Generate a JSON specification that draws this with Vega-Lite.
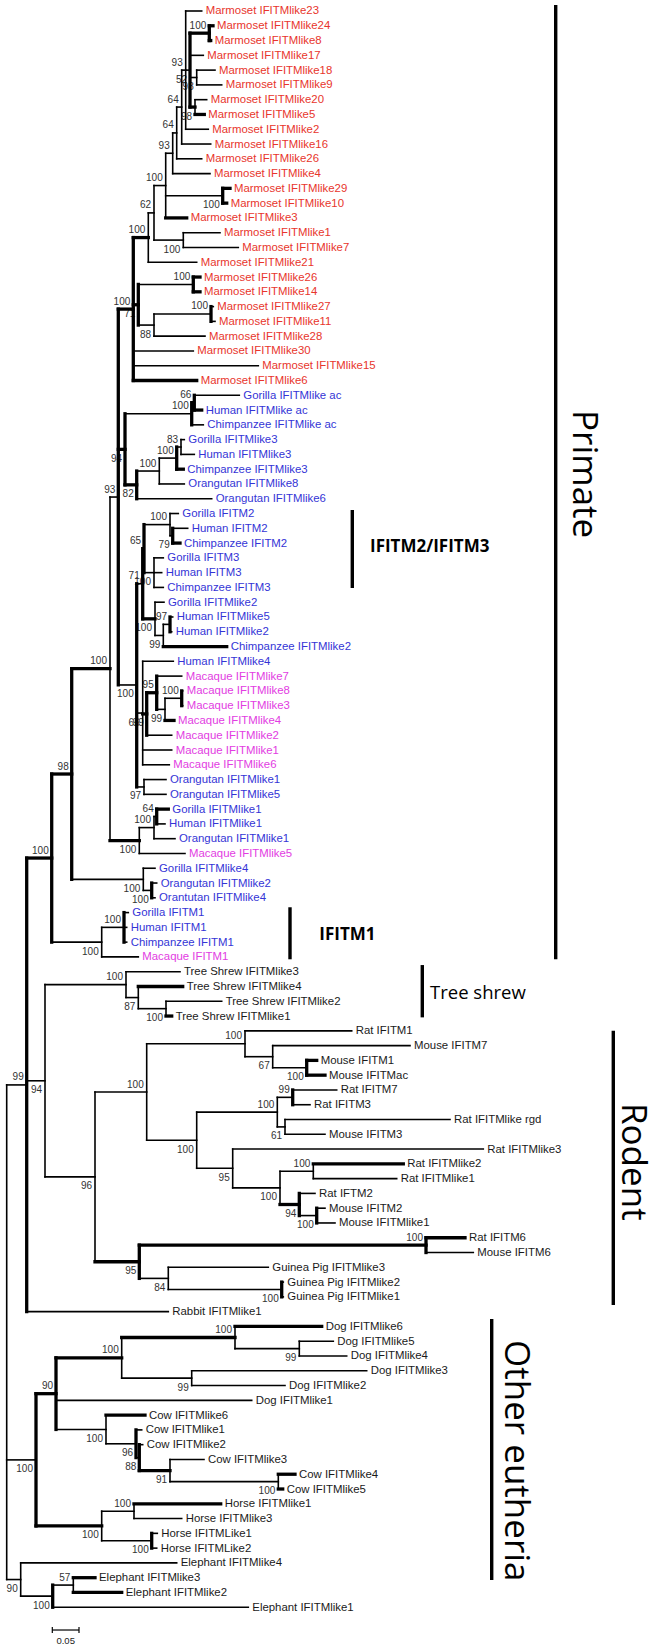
{
"$schema":"https://vega.github.io/schema/vega-lite/v6.json",
"width":658,"height":1651,"padding":0,
"autosize":{"type":"fit","contains":"padding"},
"config":{"view":{"stroke":null}},
"datasets":{
"nodes":[
{"id":"R0","p":null,"x":6.7,"y":89.39,"hb":0,"vb":0},
{"id":"AC","p":"R0","x":26.7,"y":72.66,"bs":"99","sd":"a","hb":0,"vb":1},
{"id":"AR","p":"R0","x":36,"y":98.03,"bs":"100","sd":"b","hb":0,"vb":1},
{"id":"AS","p":"R0","x":20.7,"y":106.125,"bs":"90","sd":"b","hb":0,"vb":0},
{"id":"AA","p":"AC","x":51.7,"y":57.31,"bs":"100","sd":"a","hb":1,"vb":1},
{"id":"AD","p":"AC","x":45,"y":72.38,"bs":"94","sd":"b","hb":0,"vb":0},
{"id":"Y","p":"AA","x":71.7,"y":51.625,"bs":"98","sd":"a","hb":1,"vb":1},
{"id":"AB","p":"AA","x":101.7,"y":63,"bs":"100","sd":"b","hb":0,"vb":0},
{"id":"X","p":"Y","x":110,"y":44.5,"bs":"100","sd":"a","hb":1,"vb":0},
{"id":"Z","p":"Y","x":143.3,"y":58.75,"bs":"100","sd":"b","hb":0,"vb":0},
{"id":"N9","p":"X","x":118.3,"y":32.885,"bs":"93","sd":"a","hb":0,"vb":1},
{"id":"Q","p":"X","x":139.3,"y":56.125,"bs":"100","sd":"b","hb":1,"vb":0},
{"id":"N8","p":"N9","x":133.3,"y":20.17,"bs":"100","sd":"a","hb":1,"vb":1},
{"id":"K","p":"N9","x":125,"y":29.66,"bs":"94","sd":"b","hb":1,"vb":1},
{"id":"P","p":"N9","x":136.7,"y":45.6,"bs":"100","sd":"b","hb":0,"vb":1},
{"id":"N7","p":"N8","x":148.3,"y":15.33,"bs":"100","sd":"a","hb":1,"vb":0},
{"id":"G","p":"N8","x":138.3,"y":19.875,"bs":"71","sd":"b","hb":1,"vb":1},
{"id":"N6","p":"N7","x":154,"y":13.66,"bs":"62","sd":"a","hb":0,"vb":0},
{"id":"N5","p":"N6","x":165.7,"y":11.81,"bs":"100","sd":"a","hb":0,"vb":0},
{"id":"F","p":"N6","x":183.3,"y":15.5,"bs":"100","sd":"b","hb":0,"vb":0},
{"id":"N4","p":"N5","x":172.7,"y":9.625,"bs":"93","sd":"a","hb":0,"vb":0},
{"id":"E","p":"N5","x":222.7,"y":12.5,"bs":"100","sd":"b","hb":0,"vb":1},
{"id":"N3","p":"N4","x":176.7,"y":8.25,"bs":"64","sd":"a","hb":0,"vb":0},
{"id":"N2","p":"N3","x":181.7,"y":6.5,"bs":"64","sd":"a","hb":0,"vb":0},
{"id":"N1","p":"N2","x":185.7,"y":4,"bs":"93","sd":"a","hb":0,"vb":0},
{"id":"D","p":"N1","x":190,"y":4,"bs":"52","sd":"b","hb":0,"vb":1},
{"id":"A","p":"D","x":209.3,"y":1.5,"bs":"100","sd":"a","hb":1,"vb":1},
{"id":"B","p":"D","x":196.7,"y":4.5,"bs":"98","sd":"b","hb":0,"vb":0},
{"id":"C","p":"D","x":195,"y":6.5,"bs":"98","sd":"b","hb":1,"vb":0},
{"id":"H","p":"G","x":193.3,"y":18.5,"bs":"100","sd":"a","hb":0,"vb":1},
{"id":"I","p":"G","x":154,"y":21.25,"bs":"88","sd":"b","hb":0,"vb":0},
{"id":"J","p":"I","x":211,"y":20.5,"bs":"100","sd":"a","hb":0,"vb":1},
{"id":"L","p":"K","x":191.7,"y":27.25,"bs":"100","sd":"a","hb":0,"vb":1},
{"id":"M","p":"K","x":136.7,"y":32.06,"bs":"82","sd":"b","hb":1,"vb":1},
{"id":"L1","p":"L","x":194.3,"y":26.5,"bs":"66","sd":"a","hb":0,"vb":1},
{"id":"M1","p":"M","x":159.3,"y":31.125,"bs":"100","sd":"a","hb":0,"vb":0},
{"id":"M2","p":"M1","x":176.7,"y":30.25,"bs":"100","sd":"a","hb":0,"vb":1},
{"id":"M3","p":"M2","x":181,"y":29.5,"bs":"83","sd":"a","hb":0,"vb":0},
{"id":"V","p":"P","x":142.7,"y":38.75,"bs":"71","sd":"a","hb":0,"vb":1},
{"id":"X5","p":"P","x":142.7,"y":47.5,"bs":"66","sd":"b","hb":0,"vb":0},
{"id":"X6","p":"P","x":144,"y":52.5,"bs":"97","sd":"b","hb":0,"vb":0},
{"id":"T","p":"V","x":144,"y":36.375,"bs":"65","sd":"a","hb":0,"vb":1},
{"id":"U","p":"V","x":155,"y":41.125,"bs":"100","sd":"b","hb":1,"vb":0},
{"id":"R","p":"T","x":170,"y":34.75,"bs":"100","sd":"a","hb":0,"vb":0},
{"id":"S","p":"T","x":154,"y":38,"bs":"100","sd":"b","hb":0,"vb":0},
{"id":"R1","p":"R","x":172.7,"y":35.5,"bs":"79","sd":"b","hb":0,"vb":1},
{"id":"U1","p":"U","x":163.3,"y":42.25,"bs":"99","sd":"b","hb":0,"vb":0},
{"id":"U2","p":"U1","x":170,"y":41.5,"bs":"97","sd":"a","hb":0,"vb":1},
{"id":"X4","p":"X5","x":146.7,"y":47.56,"bs":"99","sd":"b","hb":1,"vb":1},
{"id":"X3","p":"X4","x":156.7,"y":46.125,"bs":"95","sd":"a","hb":1,"vb":1},
{"id":"X2","p":"X3","x":165,"y":47.25,"bs":"99","sd":"b","hb":0,"vb":0},
{"id":"X1","p":"X2","x":181.7,"y":46.5,"bs":"100","sd":"a","hb":0,"vb":1},
{"id":"Q2","p":"Q","x":154,"y":55.25,"bs":"100","sd":"a","hb":0,"vb":0},
{"id":"Q1","p":"Q2","x":156.7,"y":54.5,"bs":"64","sd":"a","hb":0,"vb":1},
{"id":"Z1","p":"Z","x":151.7,"y":59.5,"bs":"100","sd":"b","hb":0,"vb":1},
{"id":"AB1","p":"AB","x":124,"y":62,"bs":"100","sd":"a","hb":0,"vb":1},
{"id":"AE","p":"AD","x":126,"y":65.875,"bs":"100","sd":"a","hb":0,"vb":0},
{"id":"AF","p":"AD","x":95,"y":78.88,"bs":"96","sd":"b","hb":0,"vb":0},
{"id":"AE1","p":"AE","x":138.3,"y":66.75,"bs":"87","sd":"b","hb":0,"vb":0},
{"id":"AE2","p":"AE1","x":166,"y":67.5,"bs":"100","sd":"b","hb":0,"vb":0},
{"id":"AG","p":"AF","x":146.7,"y":73.14,"bs":"100","sd":"a","hb":0,"vb":0},
{"id":"AH","p":"AF","x":139.3,"y":84.625,"bs":"95","sd":"b","hb":1,"vb":1},
{"id":"AI","p":"AG","x":245,"y":69.875,"bs":"100","sd":"a","hb":0,"vb":0},
{"id":"AJ","p":"AG","x":196.7,"y":76.4,"bs":"100","sd":"b","hb":0,"vb":0},
{"id":"AI1","p":"AI","x":272.7,"y":70.75,"bs":"67","sd":"b","hb":0,"vb":0},
{"id":"AI2","p":"AI1","x":306.7,"y":71.5,"bs":"100","sd":"b","hb":0,"vb":1},
{"id":"AK","p":"AJ","x":277.3,"y":74.5,"bs":"100","sd":"a","hb":0,"vb":0},
{"id":"AL","p":"AJ","x":232.7,"y":78.3,"bs":"95","sd":"b","hb":0,"vb":0},
{"id":"AK1","p":"AK","x":292.7,"y":73.5,"bs":"99","sd":"a","hb":0,"vb":1},
{"id":"AK2","p":"AK","x":285,"y":75.5,"bs":"61","sd":"b","hb":0,"vb":0},
{"id":"AM","p":"AL","x":280,"y":79.625,"bs":"100","sd":"b","hb":0,"vb":0},
{"id":"AN","p":"AM","x":313.3,"y":78.5,"bs":"100","sd":"a","hb":0,"vb":0},
{"id":"AO","p":"AM","x":299.3,"y":80.75,"bs":"94","sd":"b","hb":1,"vb":1},
{"id":"AO1","p":"AO","x":316.7,"y":81.5,"bs":"100","sd":"b","hb":0,"vb":1},
{"id":"AP","p":"AH","x":426,"y":83.5,"bs":"100","sd":"a","hb":1,"vb":1},
{"id":"AQ","p":"AH","x":168.3,"y":85.75,"bs":"84","sd":"b","hb":0,"vb":0},
{"id":"AQ1","p":"AQ","x":281.7,"y":86.5,"bs":"100","sd":"b","hb":0,"vb":1},
{"id":"AT","p":"AR","x":56,"y":93.55,"bs":"90","sd":"a","hb":1,"vb":1},
{"id":"AU","p":"AR","x":101.7,"y":102.5,"bs":"100","sd":"b","hb":1,"vb":0},
{"id":"AV","p":"AT","x":121.7,"y":91.125,"bs":"100","sd":"a","hb":1,"vb":0},
{"id":"AW","p":"AT","x":106,"y":95.97,"bs":"100","sd":"b","hb":0,"vb":0},
{"id":"AX","p":"AV","x":235,"y":89.75,"bs":"100","sd":"a","hb":1,"vb":0},
{"id":"AY","p":"AV","x":191.7,"y":92.5,"bs":"99","sd":"b","hb":0,"vb":0},
{"id":"AX1","p":"AX","x":299.3,"y":90.5,"bs":"99","sd":"b","hb":0,"vb":0},
{"id":"AZ","p":"AW","x":136,"y":96.94,"bs":"96","sd":"b","hb":0,"vb":1},
{"id":"BA","p":"AZ","x":139.3,"y":97.875,"bs":"88","sd":"b","hb":0,"vb":1},
{"id":"BB","p":"BA","x":170,"y":98.75,"bs":"91","sd":"b","hb":1,"vb":0},
{"id":"BC","p":"BB","x":278.3,"y":99.5,"bs":"100","sd":"b","hb":0,"vb":0},
{"id":"BD","p":"AU","x":134,"y":101.5,"bs":"100","sd":"a","hb":0,"vb":0},
{"id":"BE","p":"AU","x":151.7,"y":103.5,"bs":"100","sd":"b","hb":0,"vb":1},
{"id":"AS1","p":"AS","x":52.7,"y":107.25,"bs":"100","sd":"b","hb":0,"vb":1},
{"id":"AS2","p":"AS1","x":73.3,"y":106.5,"bs":"57","sd":"a","hb":0,"vb":0},
{"id":"L0","p":"N1","x":201.7,"y":0,"hb":0,"n":"Marmoset IFITMlike23","g":"m"},
{"id":"L1x","p":"A","x":213,"y":1,"hb":1,"n":"Marmoset IFITMlike24","g":"m"},
{"id":"L2","p":"A","x":210.7,"y":2,"hb":1,"n":"Marmoset IFITMlike8","g":"m"},
{"id":"L3","p":"D","x":203.3,"y":3,"hb":0,"n":"Marmoset IFITMlike17","g":"m"},
{"id":"L4","p":"B","x":215,"y":4,"hb":0,"n":"Marmoset IFITMlike18","g":"m"},
{"id":"L5","p":"B","x":221.7,"y":5,"hb":0,"n":"Marmoset IFITMlike9","g":"m"},
{"id":"L6","p":"C","x":206.7,"y":6,"hb":0,"n":"Marmoset IFITMlike20","g":"m"},
{"id":"L7","p":"C","x":204.3,"y":7,"hb":1,"n":"Marmoset IFITMlike5","g":"m"},
{"id":"L8","p":"N1","x":208.3,"y":8,"hb":0,"n":"Marmoset IFITMlike2","g":"m"},
{"id":"L9","p":"N2","x":210.7,"y":9,"hb":0,"n":"Marmoset IFITMlike16","g":"m"},
{"id":"L10","p":"N3","x":201.7,"y":10,"hb":0,"n":"Marmoset IFITMlike26","g":"m"},
{"id":"L11","p":"N4","x":210,"y":11,"hb":0,"n":"Marmoset IFITMlike4","g":"m"},
{"id":"L12","p":"E","x":230,"y":12,"hb":1,"n":"Marmoset IFITMlike29","g":"m"},
{"id":"L13","p":"E","x":226.7,"y":13,"hb":1,"n":"Marmoset IFITMlike10","g":"m"},
{"id":"L14","p":"N5","x":186.7,"y":14,"hb":1,"n":"Marmoset IFITMlike3","g":"m"},
{"id":"L15","p":"F","x":220,"y":15,"hb":0,"n":"Marmoset IFITMlike1","g":"m"},
{"id":"L16","p":"F","x":238.3,"y":16,"hb":0,"n":"Marmoset IFITMlike7","g":"m"},
{"id":"L17","p":"N7","x":196.7,"y":17,"hb":0,"n":"Marmoset IFITMlike21","g":"m"},
{"id":"L18","p":"H","x":200,"y":18,"hb":1,"n":"Marmoset IFITMlike26","g":"m"},
{"id":"L19","p":"H","x":200,"y":19,"hb":1,"n":"Marmoset IFITMlike14","g":"m"},
{"id":"L20","p":"J","x":213.3,"y":20,"hb":0,"n":"Marmoset IFITMlike27","g":"m"},
{"id":"L21","p":"J","x":215,"y":21,"hb":0,"n":"Marmoset IFITMlike11","g":"m"},
{"id":"L22","p":"I","x":205,"y":22,"hb":0,"n":"Marmoset IFITMlike28","g":"m"},
{"id":"L23","p":"N8","x":193.3,"y":23,"hb":0,"n":"Marmoset IFITMlike30","g":"m"},
{"id":"L24","p":"N8","x":258.3,"y":24,"hb":0,"n":"Marmoset IFITMlike15","g":"m"},
{"id":"L25","p":"N8","x":196.7,"y":25,"hb":1,"n":"Marmoset IFITMlike6","g":"m"},
{"id":"L26","p":"L1","x":239.3,"y":26,"hb":0,"n":"Gorilla IFITMlike ac","g":"b"},
{"id":"L27","p":"L1","x":201.7,"y":27,"hb":1,"n":"Human IFITMlike ac","g":"b"},
{"id":"L28","p":"L","x":203.3,"y":28,"hb":0,"n":"Chimpanzee IFITMlike ac","g":"b"},
{"id":"L29","p":"M3","x":184.3,"y":29,"hb":0,"n":"Gorilla IFITMlike3","g":"b"},
{"id":"L30","p":"M3","x":194.3,"y":30,"hb":0,"n":"Human IFITMlike3","g":"b"},
{"id":"L31","p":"M2","x":183.3,"y":31,"hb":1,"n":"Chimpanzee IFITMlike3","g":"b"},
{"id":"L32","p":"M1","x":184.3,"y":32,"hb":0,"n":"Orangutan IFITMlike8","g":"b"},
{"id":"L33","p":"M","x":211.7,"y":33,"hb":0,"n":"Orangutan IFITMlike6","g":"b"},
{"id":"L34","p":"R","x":178.3,"y":34,"hb":0,"n":"Gorilla IFITM2","g":"b"},
{"id":"L35","p":"R1","x":187.7,"y":35,"hb":0,"n":"Human IFITM2","g":"b"},
{"id":"L36","p":"R1","x":180,"y":36,"hb":1,"n":"Chimpanzee IFITM2","g":"b"},
{"id":"L37","p":"S","x":163.3,"y":37,"hb":0,"n":"Gorilla IFITM3","g":"b"},
{"id":"L38","p":"S","x":161.7,"y":38,"hb":0,"n":"Human IFITM3","g":"b"},
{"id":"L39","p":"S","x":163.3,"y":39,"hb":0,"n":"Chimpanzee IFITM3","g":"b"},
{"id":"L40","p":"U","x":164,"y":40,"hb":0,"n":"Gorilla IFITMlike2","g":"b"},
{"id":"L41","p":"U2","x":172.7,"y":41,"hb":0,"n":"Human IFITMlike5","g":"b"},
{"id":"L42","p":"U2","x":171.7,"y":42,"hb":0,"n":"Human IFITMlike2","g":"b"},
{"id":"L43","p":"U1","x":226.7,"y":43,"hb":1,"n":"Chimpanzee IFITMlike2","g":"b"},
{"id":"L44","p":"X5","x":173.3,"y":44,"hb":0,"n":"Human IFITMlike4","g":"b"},
{"id":"L45","p":"X3","x":181.7,"y":45,"hb":0,"n":"Macaque IFITMlike7","g":"q"},
{"id":"L46","p":"X1","x":182.7,"y":46,"hb":0,"n":"Macaque IFITMlike8","g":"q"},
{"id":"L47","p":"X1","x":182.7,"y":47,"hb":0,"n":"Macaque IFITMlike3","g":"q"},
{"id":"L48","p":"X2","x":174,"y":48,"hb":1,"n":"Macaque IFITMlike4","g":"q"},
{"id":"L49","p":"X4","x":171.7,"y":49,"hb":0,"n":"Macaque IFITMlike2","g":"q"},
{"id":"L50","p":"X5","x":171.7,"y":50,"hb":0,"n":"Macaque IFITMlike1","g":"q"},
{"id":"L51","p":"X5","x":169.3,"y":51,"hb":0,"n":"Macaque IFITMlike6","g":"q"},
{"id":"L52","p":"X6","x":166,"y":52,"hb":0,"n":"Orangutan IFITMlike1","g":"b"},
{"id":"L53","p":"X6","x":166,"y":53,"hb":0,"n":"Orangutan IFITMlike5","g":"b"},
{"id":"L54","p":"Q1","x":168.3,"y":54,"hb":1,"n":"Gorilla IFITMlike1","g":"b"},
{"id":"L55","p":"Q1","x":165,"y":55,"hb":0,"n":"Human IFITMlike1","g":"b"},
{"id":"L56","p":"Q2","x":175,"y":56,"hb":0,"n":"Orangutan IFITMlike1","g":"b"},
{"id":"L57","p":"Q","x":185,"y":57,"hb":0,"n":"Macaque IFITMlike5","g":"q"},
{"id":"L58","p":"Z","x":155,"y":58,"hb":0,"n":"Gorilla IFITMlike4","g":"b"},
{"id":"L59","p":"Z1","x":156.7,"y":59,"hb":0,"n":"Orangutan IFITMlike2","g":"b"},
{"id":"L60","p":"Z1","x":155,"y":60,"hb":0,"n":"Orantutan IFITMlike4","g":"b"},
{"id":"L61","p":"AB1","x":128.3,"y":61,"hb":0,"n":"Gorilla IFITM1","g":"b"},
{"id":"L62","p":"AB1","x":126.7,"y":62,"hb":0,"n":"Human IFITM1","g":"b"},
{"id":"L63","p":"AB1","x":126.7,"y":63,"hb":0,"n":"Chimpanzee IFITM1","g":"b"},
{"id":"L64","p":"AB","x":138.3,"y":64,"hb":0,"n":"Macaque IFITM1","g":"q"},
{"id":"L65","p":"AE","x":180,"y":65,"hb":0,"n":"Tree Shrew IFITMlike3","g":"k"},
{"id":"L66","p":"AE1","x":182.7,"y":66,"hb":1,"n":"Tree Shrew IFITMlike4","g":"k"},
{"id":"L67","p":"AE2","x":221.7,"y":67,"hb":0,"n":"Tree Shrew IFITMlike2","g":"k"},
{"id":"L68","p":"AE2","x":171.7,"y":68,"hb":1,"n":"Tree Shrew IFITMlike1","g":"k"},
{"id":"L69","p":"AI","x":351.7,"y":69,"hb":0,"n":"Rat IFITM1","g":"k"},
{"id":"L70","p":"AI1","x":410,"y":70,"hb":0,"n":"Mouse IFITM7","g":"k"},
{"id":"L71","p":"AI2","x":316.7,"y":71,"hb":1,"n":"Mouse IFITM1","g":"k"},
{"id":"L72","p":"AI2","x":325,"y":72,"hb":1,"n":"Mouse IFITMac","g":"k"},
{"id":"L73","p":"AK1","x":336.7,"y":73,"hb":0,"n":"Rat IFITM7","g":"k"},
{"id":"L74","p":"AK1","x":310,"y":74,"hb":0,"n":"Rat IFITM3","g":"k"},
{"id":"L75","p":"AK2","x":450,"y":75,"hb":0,"n":"Rat IFITMlike rgd","g":"k"},
{"id":"L76","p":"AK2","x":325,"y":76,"hb":0,"n":"Mouse IFITM3","g":"k"},
{"id":"L77","p":"AL","x":483.3,"y":77,"hb":0,"n":"Rat IFITMlike3","g":"k"},
{"id":"L78","p":"AN","x":403.3,"y":78,"hb":1,"n":"Rat IFITMlike2","g":"k"},
{"id":"L79","p":"AN","x":396.7,"y":79,"hb":0,"n":"Rat IFITMlike1","g":"k"},
{"id":"L80","p":"AO","x":315,"y":80,"hb":0,"n":"Rat IFTM2","g":"k"},
{"id":"L81","p":"AO1","x":325,"y":81,"hb":0,"n":"Mouse IFITM2","g":"k"},
{"id":"L82","p":"AO1","x":335,"y":82,"hb":0,"n":"Mouse IFITMlike1","g":"k"},
{"id":"L83","p":"AP","x":465,"y":83,"hb":1,"n":"Rat IFITM6","g":"k"},
{"id":"L84","p":"AP","x":473.3,"y":84,"hb":0,"n":"Mouse IFITM6","g":"k"},
{"id":"L85","p":"AQ","x":268.3,"y":85,"hb":0,"n":"Guinea Pig IFITMlike3","g":"k"},
{"id":"L86","p":"AQ1","x":283.3,"y":86,"hb":0,"n":"Guinea Pig IFITMlike2","g":"k"},
{"id":"L87","p":"AQ1","x":283.3,"y":87,"hb":0,"n":"Guinea Pig IFITMlike1","g":"k"},
{"id":"L88","p":"AC","x":168.3,"y":88,"hb":0,"n":"Rabbit IFITMlike1","g":"k"},
{"id":"L89","p":"AX","x":321.7,"y":89,"hb":1,"n":"Dog IFITMlike6","g":"k"},
{"id":"L90","p":"AX1","x":333.3,"y":90,"hb":0,"n":"Dog IFITMlike5","g":"k"},
{"id":"L91","p":"AX1","x":346.7,"y":91,"hb":0,"n":"Dog IFITMlike4","g":"k"},
{"id":"L92","p":"AY","x":366.7,"y":92,"hb":0,"n":"Dog IFITMlike3","g":"k"},
{"id":"L93","p":"AY","x":285,"y":93,"hb":0,"n":"Dog IFITMlike2","g":"k"},
{"id":"L94","p":"AT","x":251.7,"y":94,"hb":0,"n":"Dog IFITMlike1","g":"k"},
{"id":"L95","p":"AW","x":145,"y":95,"hb":1,"n":"Cow IFITMlike6","g":"k"},
{"id":"L96","p":"AZ","x":141.7,"y":96,"hb":0,"n":"Cow IFITMlike1","g":"k"},
{"id":"L97","p":"BA","x":142.7,"y":97,"hb":0,"n":"Cow IFITMlike2","g":"k"},
{"id":"L98","p":"BB","x":204,"y":98,"hb":0,"n":"Cow IFITMlike3","g":"k"},
{"id":"L99","p":"BC","x":295,"y":99,"hb":1,"n":"Cow IFITMlike4","g":"k"},
{"id":"L100","p":"BC","x":282.7,"y":100,"hb":1,"n":"Cow IFITMlike5","g":"k"},
{"id":"L101","p":"BD","x":220.7,"y":101,"hb":1,"n":"Horse IFITMlike1","g":"k"},
{"id":"L102","p":"BD","x":181.7,"y":102,"hb":0,"n":"Horse IFITMlike3","g":"k"},
{"id":"L103","p":"BE","x":157.3,"y":103,"hb":0,"n":"Horse IFITMLike1","g":"k"},
{"id":"L104","p":"BE","x":156.7,"y":104,"hb":0,"n":"Horse IFITMLike2","g":"k"},
{"id":"L105","p":"AS","x":176.7,"y":105,"hb":0,"n":"Elephant IFITMlike4","g":"k"},
{"id":"L106","p":"AS2","x":95,"y":106,"hb":1,"n":"Elephant IFITMlike3","g":"k"},
{"id":"L107","p":"AS2","x":121.7,"y":107,"hb":1,"n":"Elephant IFITMlike2","g":"k"},
{"id":"L108","p":"AS1","x":248.3,"y":108,"hb":0,"n":"Elephant IFITMlike1","g":"k"}
],
"clades":[
{"name":"Primate","kind":"big","bx":555.7,"b1":-0.41,"b2":64.16,"tx":573,"ty":27.0},
{"name":"IFITM2/IFITM3","kind":"sub","bx":352.3,"b1":33.76,"b2":39.04,"tx":370,"ty":36.27},
{"name":"IFITM1","kind":"sub","bx":290,"b1":60.64,"b2":64.16,"tx":319.3,"ty":62.52},
{"name":"Tree shrew","kind":"plain","bx":422.3,"b1":64.55,"b2":68.09,"tx":430,"ty":66.46},
{"name":"Rodent","kind":"big","bx":613.3,"b1":68.99,"b2":87.55,"tx":622,"ty":73.88},
{"name":"Other eutheria","kind":"big","bx":491.7,"b1":88.5,"b2":106.16,"tx":505,"ty":89.92}
],
"scalebar":[{"x1":52.3,"x2":79,"y":109.54,"t":"0.05","tx":65.7,"ty":110.27,"e1":109.34,"e2":109.75}]
},
"layer":[
{"data":{"name":"nodes"},"transform":[{"filter":"datum.bs != null && datum.sd == 'a'"}],
 "mark":{"type":"text","align":"right","baseline":"middle","dx":-3,"dy":-7.5,"font":"Liberation Sans","fontSize":10,"color":"#333"},
 "encoding":{"x":{"field":"x","type":"quantitative","scale":{"domain":[0,658],"nice":false,"zero":false},"axis":null},
  "y":{"field":"y","type":"quantitative","scale":{"domain":[-0.744,110.96],"reverse":true,"nice":false,"zero":false},"axis":null},
  "text":{"field":"bs"}}},
{"data":{"name":"nodes"},"transform":[{"filter":"datum.bs != null && datum.sd == 'b'"}],
 "mark":{"type":"text","align":"right","baseline":"middle","dx":-3,"dy":9.5,"font":"Liberation Sans","fontSize":10,"color":"#333"},
 "encoding":{"x":{"field":"x","type":"quantitative","scale":{"domain":[0,658],"nice":false,"zero":false},"axis":null},
  "y":{"field":"y","type":"quantitative","scale":{"domain":[-0.744,110.96],"reverse":true,"nice":false,"zero":false},"axis":null},
  "text":{"field":"bs"}}},
{"data":{"name":"nodes"},"transform":[{"filter":"datum.p != null"},{"lookup":"p","from":{"data":{"name":"nodes"},"key":"id","fields":["x"]},"as":["px"]}],
 "mark":{"type":"rule","color":"#000","strokeCap":"square"},
 "encoding":{"x":{"field":"px","type":"quantitative","scale":{"domain":[0,658],"nice":false,"zero":false},"axis":null},
  "x2":{"field":"x"},
  "y":{"field":"y","type":"quantitative","scale":{"domain":[-0.744,110.96],"reverse":true,"nice":false,"zero":false},"axis":null},
  "strokeWidth":{"field":"hb","type":"ordinal","scale":{"domain":[0,1],"range":[1.6,3.3]},"legend":null}}},
{"data":{"name":"nodes"},"transform":[{"filter":"datum.p != null"},{"aggregate":[{"op":"min","field":"y","as":"y1"},{"op":"max","field":"y","as":"y2"}],"groupby":["p"]},{"lookup":"p","from":{"data":{"name":"nodes"},"key":"id","fields":["x","vb"]},"as":["vx","vvb"]}],
 "mark":{"type":"rule","color":"#000","strokeCap":"square"},
 "encoding":{"x":{"field":"vx","type":"quantitative","scale":{"domain":[0,658],"nice":false,"zero":false},"axis":null},
  "y":{"field":"y1","type":"quantitative","scale":{"domain":[-0.744,110.96],"reverse":true,"nice":false,"zero":false},"axis":null},
  "y2":{"field":"y2"},
  "strokeWidth":{"field":"vvb","type":"ordinal","scale":{"domain":[0,1],"range":[1.6,3.3]},"legend":null}}},
{"data":{"name":"nodes"},"transform":[{"filter":"datum.n != null"}],
 "mark":{"type":"text","align":"left","baseline":"middle","dx":4,"dy":0.5,"font":"Liberation Sans","fontSize":11.4},
 "encoding":{"x":{"field":"x","type":"quantitative","scale":{"domain":[0,658],"nice":false,"zero":false},"axis":null},
  "y":{"field":"y","type":"quantitative","scale":{"domain":[-0.744,110.96],"reverse":true,"nice":false,"zero":false},"axis":null},
  "text":{"field":"n"},
  "color":{"field":"g","type":"nominal","scale":{"domain":["m","b","q","k"],"range":["#e8352c","#3434d6","#e23ce2","#1a1a1a"]},"legend":null}}},
{"data":{"name":"clades"},
 "mark":{"type":"rule","color":"#000","strokeWidth":3.4},
 "encoding":{"x":{"field":"bx","type":"quantitative","scale":{"domain":[0,658],"nice":false,"zero":false},"axis":null},
  "y":{"field":"b1","type":"quantitative","scale":{"domain":[-0.744,110.96],"reverse":true,"nice":false,"zero":false},"axis":null},
  "y2":{"field":"b2"}}},
{"data":{"name":"clades"},"transform":[{"filter":"datum.kind == 'big'"}],
 "mark":{"type":"text","angle":90,"align":"left","baseline":"alphabetic","font":"Open Sans","fontSize":35,"color":"#000"},
 "encoding":{"x":{"field":"tx","type":"quantitative","scale":{"domain":[0,658],"nice":false,"zero":false},"axis":null},
  "y":{"field":"ty","type":"quantitative","scale":{"domain":[-0.744,110.96],"reverse":true,"nice":false,"zero":false},"axis":null},
  "text":{"field":"name"}}},
{"data":{"name":"clades"},"transform":[{"filter":"datum.kind == 'sub'"}],
 "mark":{"type":"text","align":"left","baseline":"middle","font":"Open Sans","fontSize":17,"fontWeight":"bold","color":"#000"},
 "encoding":{"x":{"field":"tx","type":"quantitative","scale":{"domain":[0,658],"nice":false,"zero":false},"axis":null},
  "y":{"field":"ty","type":"quantitative","scale":{"domain":[-0.744,110.96],"reverse":true,"nice":false,"zero":false},"axis":null},
  "text":{"field":"name"}}},
{"data":{"name":"clades"},"transform":[{"filter":"datum.kind == 'plain'"}],
 "mark":{"type":"text","align":"left","baseline":"middle","font":"Open Sans","fontSize":18.5,"color":"#000"},
 "encoding":{"x":{"field":"tx","type":"quantitative","scale":{"domain":[0,658],"nice":false,"zero":false},"axis":null},
  "y":{"field":"ty","type":"quantitative","scale":{"domain":[-0.744,110.96],"reverse":true,"nice":false,"zero":false},"axis":null},
  "text":{"field":"name"}}},
{"data":{"name":"scalebar"},
 "mark":{"type":"rule","color":"#000","strokeWidth":1.2},
 "encoding":{"x":{"field":"x1","type":"quantitative","scale":{"domain":[0,658],"nice":false,"zero":false},"axis":null},
  "x2":{"field":"x2"},
  "y":{"field":"y","type":"quantitative","scale":{"domain":[-0.744,110.96],"reverse":true,"nice":false,"zero":false},"axis":null}}},
{"data":{"name":"scalebar"},
 "mark":{"type":"rule","color":"#000","strokeWidth":1.2},
 "encoding":{"x":{"field":"x1","type":"quantitative","scale":{"domain":[0,658],"nice":false,"zero":false},"axis":null},
  "y":{"field":"e1","type":"quantitative","scale":{"domain":[-0.744,110.96],"reverse":true,"nice":false,"zero":false},"axis":null},
  "y2":{"field":"e2"}}},
{"data":{"name":"scalebar"},
 "mark":{"type":"rule","color":"#000","strokeWidth":1.2},
 "encoding":{"x":{"field":"x2","type":"quantitative","scale":{"domain":[0,658],"nice":false,"zero":false},"axis":null},
  "y":{"field":"e1","type":"quantitative","scale":{"domain":[-0.744,110.96],"reverse":true,"nice":false,"zero":false},"axis":null},
  "y2":{"field":"e2"}}},
{"data":{"name":"scalebar"},
 "mark":{"type":"text","align":"center","baseline":"middle","font":"Liberation Sans","fontSize":9.5,"color":"#222"},
 "encoding":{"x":{"field":"tx","type":"quantitative","scale":{"domain":[0,658],"nice":false,"zero":false},"axis":null},
  "y":{"field":"ty","type":"quantitative","scale":{"domain":[-0.744,110.96],"reverse":true,"nice":false,"zero":false},"axis":null},
  "text":{"field":"t"}}}
]
}
